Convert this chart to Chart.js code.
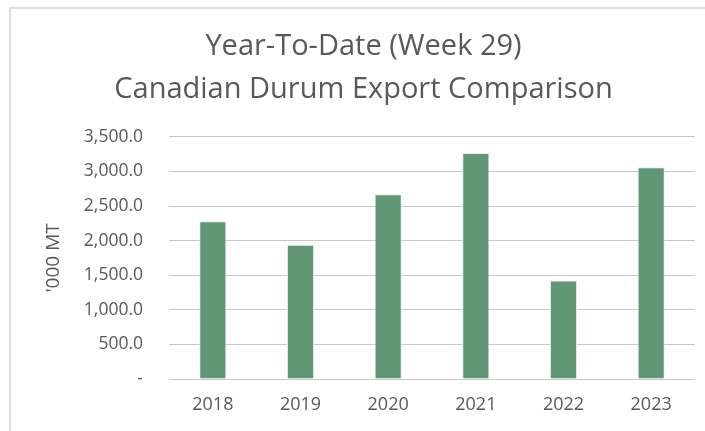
<!DOCTYPE html>
<html>
<head>
<meta charset="utf-8">
<script src="https://cdn.jsdelivr.net/npm/chart.js@4"></script>
<style>
  html, body { margin: 0; padding: 0; background: #fff; }
  #wrap { position: relative; width: 705px; height: 431px; }
  #frame { position: absolute; left: 9px; top: 7px; right: -5px; bottom: -5px; border: 2px solid #dedede; }
  canvas { position: absolute; left: 0; top: 0; }
</style>
</head>
<body>
<div id="wrap">
  <div id="frame"></div>
  <canvas id="durumChart" width="705" height="431"></canvas>
</div>
<script>
// valeurs (milliers de tonnes)
const years = ['2018', '2019', '2020', '2021', '2022', '2023'];
const exportsYTD = [2280, 1942, 2670, 3268, 1422, 3060];
const titleLines = ['Year-To-Date (Week 29)', 'Canadian Durum Export Comparison'];
const yTitle = "'000 MT";

const txtColor = '#595959';
const fontName = "'Open Sans', sans-serif";

function fmtTick(v) {
  if (v === 0) return '-';
  return v.toLocaleString('en-US', { minimumFractionDigits: 1, maximumFractionDigits: 1 });
}

const ctx = document.getElementById('durumChart').getContext('2d');
new Chart(ctx, {
  type: 'bar',
  data: {
    labels: years,
    datasets: [{
      label: 'YTD exports',
      data: exportsYTD,
      backgroundColor: '#629775',
      borderColor: '#e8f0ea',
      borderWidth: 1,
      barPercentage: 0.31,
      categoryPercentage: 1.0
    }]
  },
  options: {
    responsive: false,
    animation: false,
    layout: { padding: { left: 32, right: 10, top: 10, bottom: 0 } },
    plugins: {
      legend: { display: false },
      tooltip: { enabled: false },
      title: {
        display: true,
        text: titleLines,
        color: txtColor,
        font: { family: fontName, size: 29, weight: 'normal', lineHeight: 1.48 },
        padding: { top: 15, bottom: 26 }
      }
    },
    scales: {
      x: {
        grid: { display: false, drawTicks: false },
        border: { display: false },
        ticks: { color: txtColor, font: { family: fontName, size: 18 }, padding: 15 },
        afterFit: (s) => { s.height = 52; }
      },
      y: {
        min: 0,
        max: 3500,
        ticks: { stepSize: 500, color: txtColor, font: { family: fontName, size: 17.5 }, padding: 26, callback: fmtTick },
        grid: { color: '#c8c8c8', drawTicks: false, lineWidth: 1 },
        border: { display: false },
        title: { display: true, text: yTitle, color: txtColor, font: { family: fontName, size: 19 }, padding: { top: 10, bottom: 0 } },
        afterFit: (s) => { s.width = 137; }
      }
    }
  }
});
</script>
</body>
</html>
